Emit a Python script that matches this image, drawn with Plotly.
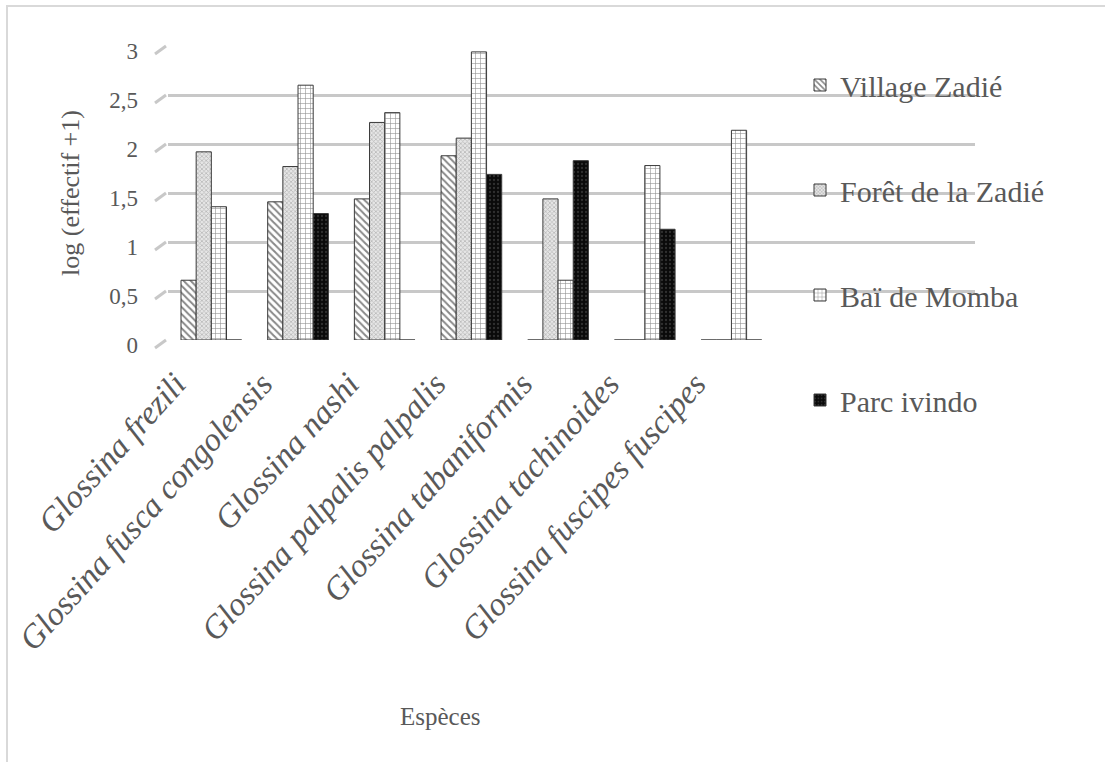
import plotly.graph_objects as go

# Species (x categories)
species = [
    "Glossina frezili",
    "Glossina fusca congolensis",
    "Glossina nashi",
    "Glossina palpalis palpalis",
    "Glossina tabaniformis",
    "Glossina tachinoides",
    "Glossina fuscipes fuscipes",
]

# log(effectif + 1) per site
village_zadie = [0.61, 1.41, 1.44, 1.88, 0.0, 0.0, 0.0]
foret_zadie = [1.92, 1.77, 2.22, 2.06, 1.44, 0.0, 0.0]
bai_momba = [1.36, 2.60, 2.32, 2.94, 0.61, 1.78, 2.14]
parc_ivindo = [0.0, 1.29, 0.0, 1.69, 1.83, 1.13, 0.0]

site_names = ["Village Zadié", "Forêt de la Zadié", "Baï de Momba", "Parc ivindo"]
y_ticks = [0, 0.5, 1, 1.5, 2, 2.5, 3]
y_tick_text = ["0", "0,5", "1", "1,5", "2", "2,5", "3"]
y_max = 3.0

W, H = 1105, 762
ML, MR, MT, MB = 168, 130, 46, 422
PW = W - ML - MR
PH = H - MT - MB

def px_x(p):
    return (p - ML) / PW

def px_y(p):
    return (H - MB - p) / PH

TEXT = "#595959"
SERIF = "'Liberation Serif', 'Times New Roman', 'DejaVu Serif', serif"

styles = [
    dict(shape="\\", fgcolor="#111111", bgcolor="white", size=5, solidity=0.4),
    dict(shape="x", fgcolor="#8a8a8a", bgcolor="#e6e6e6", size=3, solidity=0.45),
    dict(shape="+", fgcolor="#222222", bgcolor="white", size=5, solidity=0.22),
    dict(shape=".", fgcolor="#555555", bgcolor="#0a0a0a", size=4, solidity=0.25),
]

series = [village_zadie, foret_zadie, bai_momba, parc_ivindo]
xs = list(range(len(species)))

fig = go.Figure()
for i, (name, vals, pat) in enumerate(zip(site_names, series, styles)):
    fig.add_trace(go.Bar(
        x=xs, y=vals, name=name,
        legendgroup=name,
        marker=dict(color=pat["bgcolor"], pattern=pat,
                    line=dict(color="#3a3a3a", width=1)),
    ))

shapes = []
# slanted floor stubs at the left end of each gridline
for t in y_ticks:
    yb = t / y_max
    shapes.append(dict(
        type="line", xref="paper", yref="paper",
        x0=px_x(155), x1=px_x(166),
        y0=yb - 8 / PH, y1=yb,
        line=dict(color="#c8c8c8", width=3), layer="below",
    ))
# chart-area border
shapes.append(dict(
    type="rect", xref="paper", yref="paper",
    x0=px_x(7), x1=px_x(W + 10), y0=px_y(H + 10), y1=px_y(6),
    line=dict(color="#d9d9d9", width=2), fillcolor="rgba(0,0,0,0)",
))

fig.update_layout(
    width=W, height=H,
    margin=dict(l=ML, r=MR, t=MT, b=MB, autoexpand=False),
    paper_bgcolor="white", plot_bgcolor="white",
    barmode="group", bargap=0.3, bargroupgap=0,
    font=dict(family=SERIF, color=TEXT),
    showlegend=True,
    legend=dict(
        x=px_x(800), xanchor="left", y=px_y(59), yanchor="top",
        font=dict(family=SERIF, size=30, color=TEXT),
        tracegroupgap=63, itemwidth=30, traceorder="grouped",
        bgcolor="rgba(0,0,0,0)", maxheight=700,
    ),
    xaxis=dict(
        range=[-0.5, 8.81], tickmode="array", tickvals=xs, ticktext=species,
        tickangle=-48, showgrid=False, zeroline=False, showline=False,
        ticks="", automargin=False, ticklabeloverflow="allow",
        ticklabelshift=-36, ticklabelstandoff=17,
        tickfont=dict(family=SERIF, size=33, color=TEXT, style="italic"),
    ),
    yaxis=dict(
        range=[0, y_max], tickmode="array", tickvals=y_ticks, ticktext=y_tick_text,
        showgrid=True, gridcolor="#c8c8c8", gridwidth=3,
        zeroline=False, showline=False, ticks="", automargin=False,
        ticklabelstandoff=29, ticklabelshift=5,
        tickfont=dict(family=SERIF, size=23, color=TEXT),
        title=dict(text="log (effectif +1)", standoff=22,
                   font=dict(family=SERIF, size=26, color=TEXT)),
    ),
    shapes=shapes,
    annotations=[dict(
        text="Espèces", xref="paper", yref="paper",
        x=px_x(440), y=px_y(716), xanchor="center", yanchor="middle",
        showarrow=False, font=dict(family=SERIF, size=25, color=TEXT),
    )],
)

fig.write_html("out.html")
